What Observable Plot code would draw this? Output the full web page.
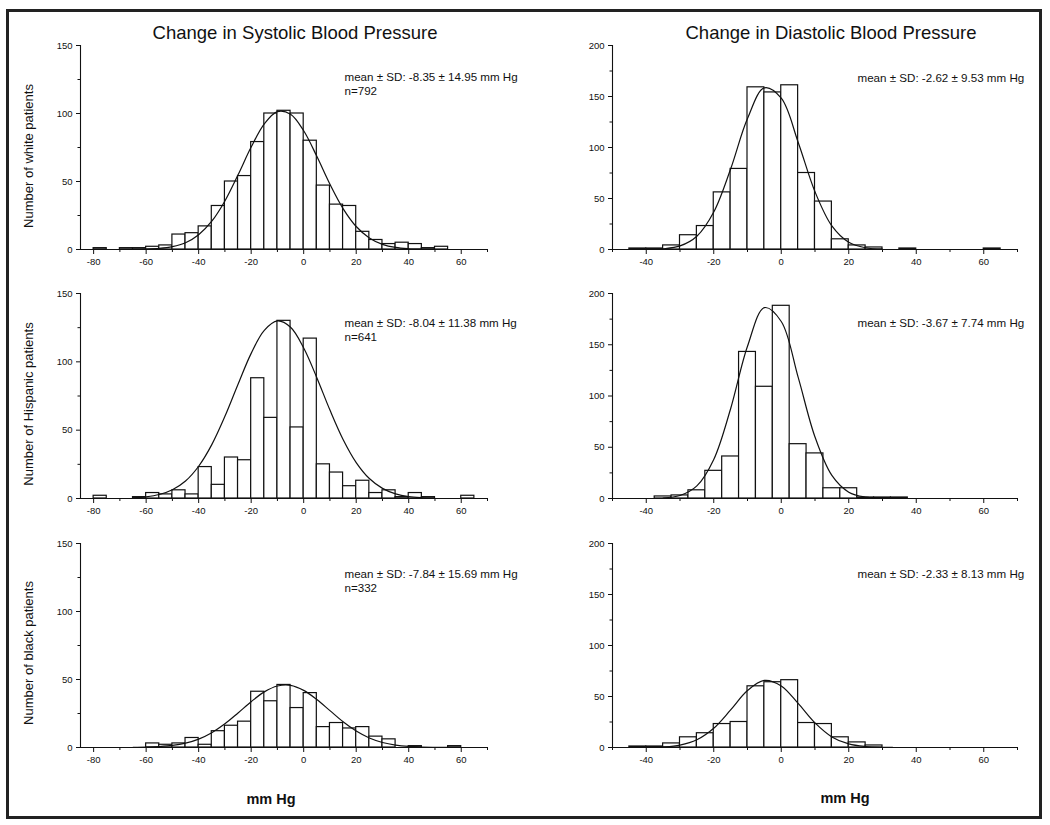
<!DOCTYPE html>
<html><head><meta charset="utf-8">
<script src="https://cdn.jsdelivr.net/npm/d3@7"></script>
<script src="https://cdn.jsdelivr.net/npm/@observablehq/plot@0.6"></script>
<style>
body{margin:0;background:#fff;font-family:"Liberation Sans",Arial,sans-serif;}
#wrap{position:relative;width:1050px;height:825px;overflow:hidden;}
#border{position:absolute;left:6px;top:9px;width:1036px;height:810px;border:3px solid #222;box-sizing:border-box;}
.t{position:absolute;white-space:nowrap;color:#111;transform:translate(-50%,-50%);}
.title{font-size:18.5px;}
.ylab{font-size:13px;transform:translate(-50%,-50%) rotate(-90deg);}
.xlab{font-size:14.5px;font-weight:bold;}
</style></head>
<body><div id="wrap"><div id="border"></div></div>
<script>
// ---- histogram data (bin lower edges, bin width 5 mm Hg) ----
const binWidth = 5;

const sysWhiteEdges  = [-80,-70,-65,-60,-55,-50,-45,-40,-35,-30,-25,-20,-15,-10,-5,0,5,10,15,20,25,30,35,40,45,50];
const sysWhiteCounts = [1,1,1,2,3,11,12,17,32,50,54,79,100,102,100,80,47,33,32,13,7,4,5,4,1,2];

const sysHispEdges  = [-80,-65,-60,-55,-50,-45,-40,-35,-30,-25,-20,-15,-10,-5,0,5,10,15,20,25,30,35,40,45,60];
const sysHispCounts = [2,1,4,3,6,3,23,10,30,28,88,59,130,52,117,25,19,9,13,4,6,1,4,1,2];

const sysBlackEdges  = [-60,-55,-50,-45,-40,-35,-30,-25,-20,-15,-10,-5,0,5,10,15,20,25,30,40,55];
const sysBlackCounts = [3,2,3,7,2,12,16,19,41,34,46,29,40,15,18,14,15,8,6,1,1];

const diaWhiteEdges  = [-45,-40,-35,-30,-25,-20,-15,-10,-5,0,5,10,15,20,25,35,60];
const diaWhiteCounts = [1,1,4,14,23,56,79,159,154,161,75,47,10,4,2,1,1];

const diaHispEdges  = [-37.5,-32.5,-27.5,-22.5,-17.5,-12.5,-7.5,-2.5,2.5,7.5,12.5,17.5,22.5,27.5,32.5];
const diaHispCounts = [2,3,8,27,41,143,109,188,53,44,10,10,1,1,1];

const diaBlackEdges  = [-45,-40,-35,-30,-25,-20,-15,-10,-5,0,5,10,15,20,25];
const diaBlackCounts = [1,1,4,10,14,23,25,60,64,66,24,23,10,5,2];

// ---- fitted curves ----
const sysWhiteCurveX = [-65,-60,-55,-50,-45,-40,-35,-30,-25,-20,-15,-10,-5,0,5,10,15,20,25,30,35,40,45,50];
const sysWhiteCurveY = [0.08,0.26,0.78,2.1,5.0,10.9,20.8,35.7,54.9,75.3,92.4,101.4,99.5,87.3,68.5,48.0,30.1,16.9,8.5,3.8,1.5,0.55,0.18,0.05];

const sysHispCurveX = [-65,-60,-55,-50,-45,-40,-35,-30,-25,-20,-15,-10,-5,0,5,10,15,20,25,30,35,40,45,50];
const sysHispCurveY = [0.45,1.2,2.9,6.4,12.8,23.6,39.4,60.1,83.6,106.2,123.0,129.9,125.3,110.1,88.4,64.7,43.2,26.3,14.6,7.4,3.4,1.4,0.56,0.2];

const sysBlackCurveX = [-65,-60,-55,-50,-45,-40,-35,-30,-25,-20,-15,-10,-5,0,5,10,15,20,25,30,35,40,45,50,55];
const sysBlackCurveY = [0.1,0.26,0.67,1.5,3.2,6.2,10.9,17.4,25.4,33.7,40.9,45.2,45.7,42.0,35.3,27.1,18.9,12.1,7.0,3.7,1.8,0.8,0.3,0.12,0.04];

const diaWhiteCurveX = [-45,-40,-35,-30,-25,-20,-15,-10,-5,0,5,10,15,20,25,30];
const diaWhiteCurveY = [0.01,0.11,0.7,3.5,13.0,36.7,78.9,128.4,158.5,148.3,105.2,56.6,23.1,7.1,1.7,0.3];

const diaHispCurveX = [-35,-30,-25,-20,-15,-10,-5,0,5,10,15,20,25,30,35];
const diaHispCurveY = [0.5,2.9,12.3,38.1,87.6,148.5,186.2,172.7,118.4,60.0,22.5,6.2,1.3,0.2,0.02];

const diaBlackCurveX = [-45,-40,-35,-30,-25,-20,-15,-10,-5,0,5,10,15,20,25,30,33];
const diaBlackCurveY = [0.02,0.11,0.57,2.4,7.6,18.9,36.8,55.8,65.8,60.4,43.2,24.1,10.4,3.5,0.93,0.19,0.07];

// ---- texts ----
const columnTitles = ["Change in Systolic Blood Pressure", "Change in Diastolic Blood Pressure"];
const rowLabels = ["Number of white patients", "Number of Hispanic patients", "Number of black patients"];
const xAxisLabel = "mm Hg";
const sysNotes = ["mean ± SD: -8.35 ± 14.95 mm Hg\nn=792", "mean ± SD: -8.04 ± 11.38 mm Hg\nn=641", "mean ± SD: -7.84 ± 15.69 mm Hg\nn=332"];
const diaNotes = ["mean ± SD: -2.62 ± 9.53 mm Hg", "mean ± SD: -3.67 ± 7.74 mm Hg", "mean ± SD: -2.33 ± 8.13 mm Hg"];

// ---- axes ----
const sysXDomain = [-85, 70], diaXDomain = [-50, 70];
const sysXTicks = [-80,-60,-40,-20,0,20,40,60], sysXMinor = [-70,-50,-30,-10,10,30,50,70];
const diaXTicks = [-40,-20,0,20,40,60], diaXMinor = [-50,-30,-10,10,30,50,70];
const sysYDomain = [0,150], sysYTicks = [0,50,100,150], sysYMinor = [25,75,125];
const diaYDomain = [0,200], diaYTicks = [0,50,100,150,200], diaYMinor = [25,75,125,175];

const INK = "#111";
const FONT = '"Liberation Sans", Arial, sans-serif';

function panel(o) {
  const bars = o.edges.map((e, i) => ({x1: e, x2: e + binWidth, n: o.counts[i]}));
  const curve = o.cx.map((x, i) => ({x, y: o.cy[i]}));
  return Plot.plot({
    width: 520, height: o.height,
    marginLeft: o.ml, marginRight: o.mr, marginTop: 10, marginBottom: o.height - 10 - o.ph,
    x: {domain: o.xDomain, label: null},
    y: {domain: o.yDomain, label: null},
    style: {fontFamily: FONT, fontSize: "9.5px", color: INK, background: "transparent", overflow: "visible"},
    marks: [
      Plot.rect(bars, {x1: "x1", x2: "x2", y1: 0, y2: "n", fill: "white", stroke: INK, strokeWidth: 1.2}),
      Plot.line(curve, {x: "x", y: "y", curve: "catmull-rom", stroke: INK, strokeWidth: 1.2}),
      Plot.ruleY([o.yDomain[0]], {stroke: INK, strokeWidth: 1.1}),
      Plot.ruleX([o.xDomain[0]], {stroke: INK, strokeWidth: 1.1}),
      Plot.axisX({ticks: o.xTicks, tickSize: 5, tickPadding: 4, tickFormat: d => String(d), label: null}),
      Plot.axisX({ticks: o.xMinor, tickSize: 3, tickFormat: () => "", label: null}),
      Plot.axisY({ticks: o.yTicks, tickSize: 4, tickPadding: 4, tickFormat: d => String(d), label: null}),
      Plot.axisY({ticks: o.yMinor, tickSize: 2.5, tickFormat: () => "", label: null}),
      Plot.text([o.note], {frameAnchor: "top-left", dx: o.ndx, dy: o.ndy, textAnchor: "start", lineAnchor: "top",
        fontSize: 11.6, lineHeight: 1.2, fill: INK})
    ]
  });
}

const wrap = document.getElementById("wrap");
function place(el, left, top) {
  el.style.position = "absolute";
  el.style.left = left + "px";
  el.style.top = top + "px";
  wrap.appendChild(el);
}

const rowTops = [35, 283, 533];
const rowPH = [204, 205, 204];
const sysSets = [
  [sysWhiteEdges, sysWhiteCounts, sysWhiteCurveX, sysWhiteCurveY],
  [sysHispEdges, sysHispCounts, sysHispCurveX, sysHispCurveY],
  [sysBlackEdges, sysBlackCounts, sysBlackCurveX, sysBlackCurveY]
];
const diaSets = [
  [diaWhiteEdges, diaWhiteCounts, diaWhiteCurveX, diaWhiteCurveY],
  [diaHispEdges, diaHispCounts, diaHispCurveX, diaHispCurveY],
  [diaBlackEdges, diaBlackCounts, diaBlackCurveX, diaBlackCurveY]
];
const sysNoteDy = [26, 24, 25], diaNoteDy = [27, 24, 25];

for (let r = 0; r < 3; r++) {
  const ph = rowPH[r], h = ph + 35;
  const s = sysSets[r];
  place(panel({edges: s[0], counts: s[1], cx: s[2], cy: s[3], height: h, ph, ml: 80, mr: 33,
    xDomain: sysXDomain, yDomain: sysYDomain, xTicks: sysXTicks, xMinor: sysXMinor, yTicks: sysYTicks, yMinor: sysYMinor,
    note: sysNotes[r], ndx: 264, ndy: sysNoteDy[r]}), 0, rowTops[r]);
  const d = diaSets[r];
  place(panel({edges: d[0], counts: d[1], cx: d[2], cy: d[3], height: h, ph, ml: 87, mr: 28,
    xDomain: diaXDomain, yDomain: diaYDomain, xTicks: diaXTicks, xMinor: diaXMinor, yTicks: diaYTicks, yMinor: diaYMinor,
    note: diaNotes[r], ndx: 245, ndy: diaNoteDy[r]}), 525, rowTops[r]);
}

function addText(cls, txt, x, y) {
  const div = document.createElement("div");
  div.className = "t " + cls;
  div.textContent = txt;
  div.style.left = x + "px";
  div.style.top = y + "px";
  wrap.appendChild(div);
}
addText("title", columnTitles[0], 295, 33);
addText("title", columnTitles[1], 831, 33);
const ylabY = [155.5, 404, 652.5];
rowLabels.forEach((t, i) => addText("ylab", t, 28, ylabY[i]));
addText("xlab", xAxisLabel, 271, 799);
addText("xlab", xAxisLabel, 845, 798);
</script></body></html>
